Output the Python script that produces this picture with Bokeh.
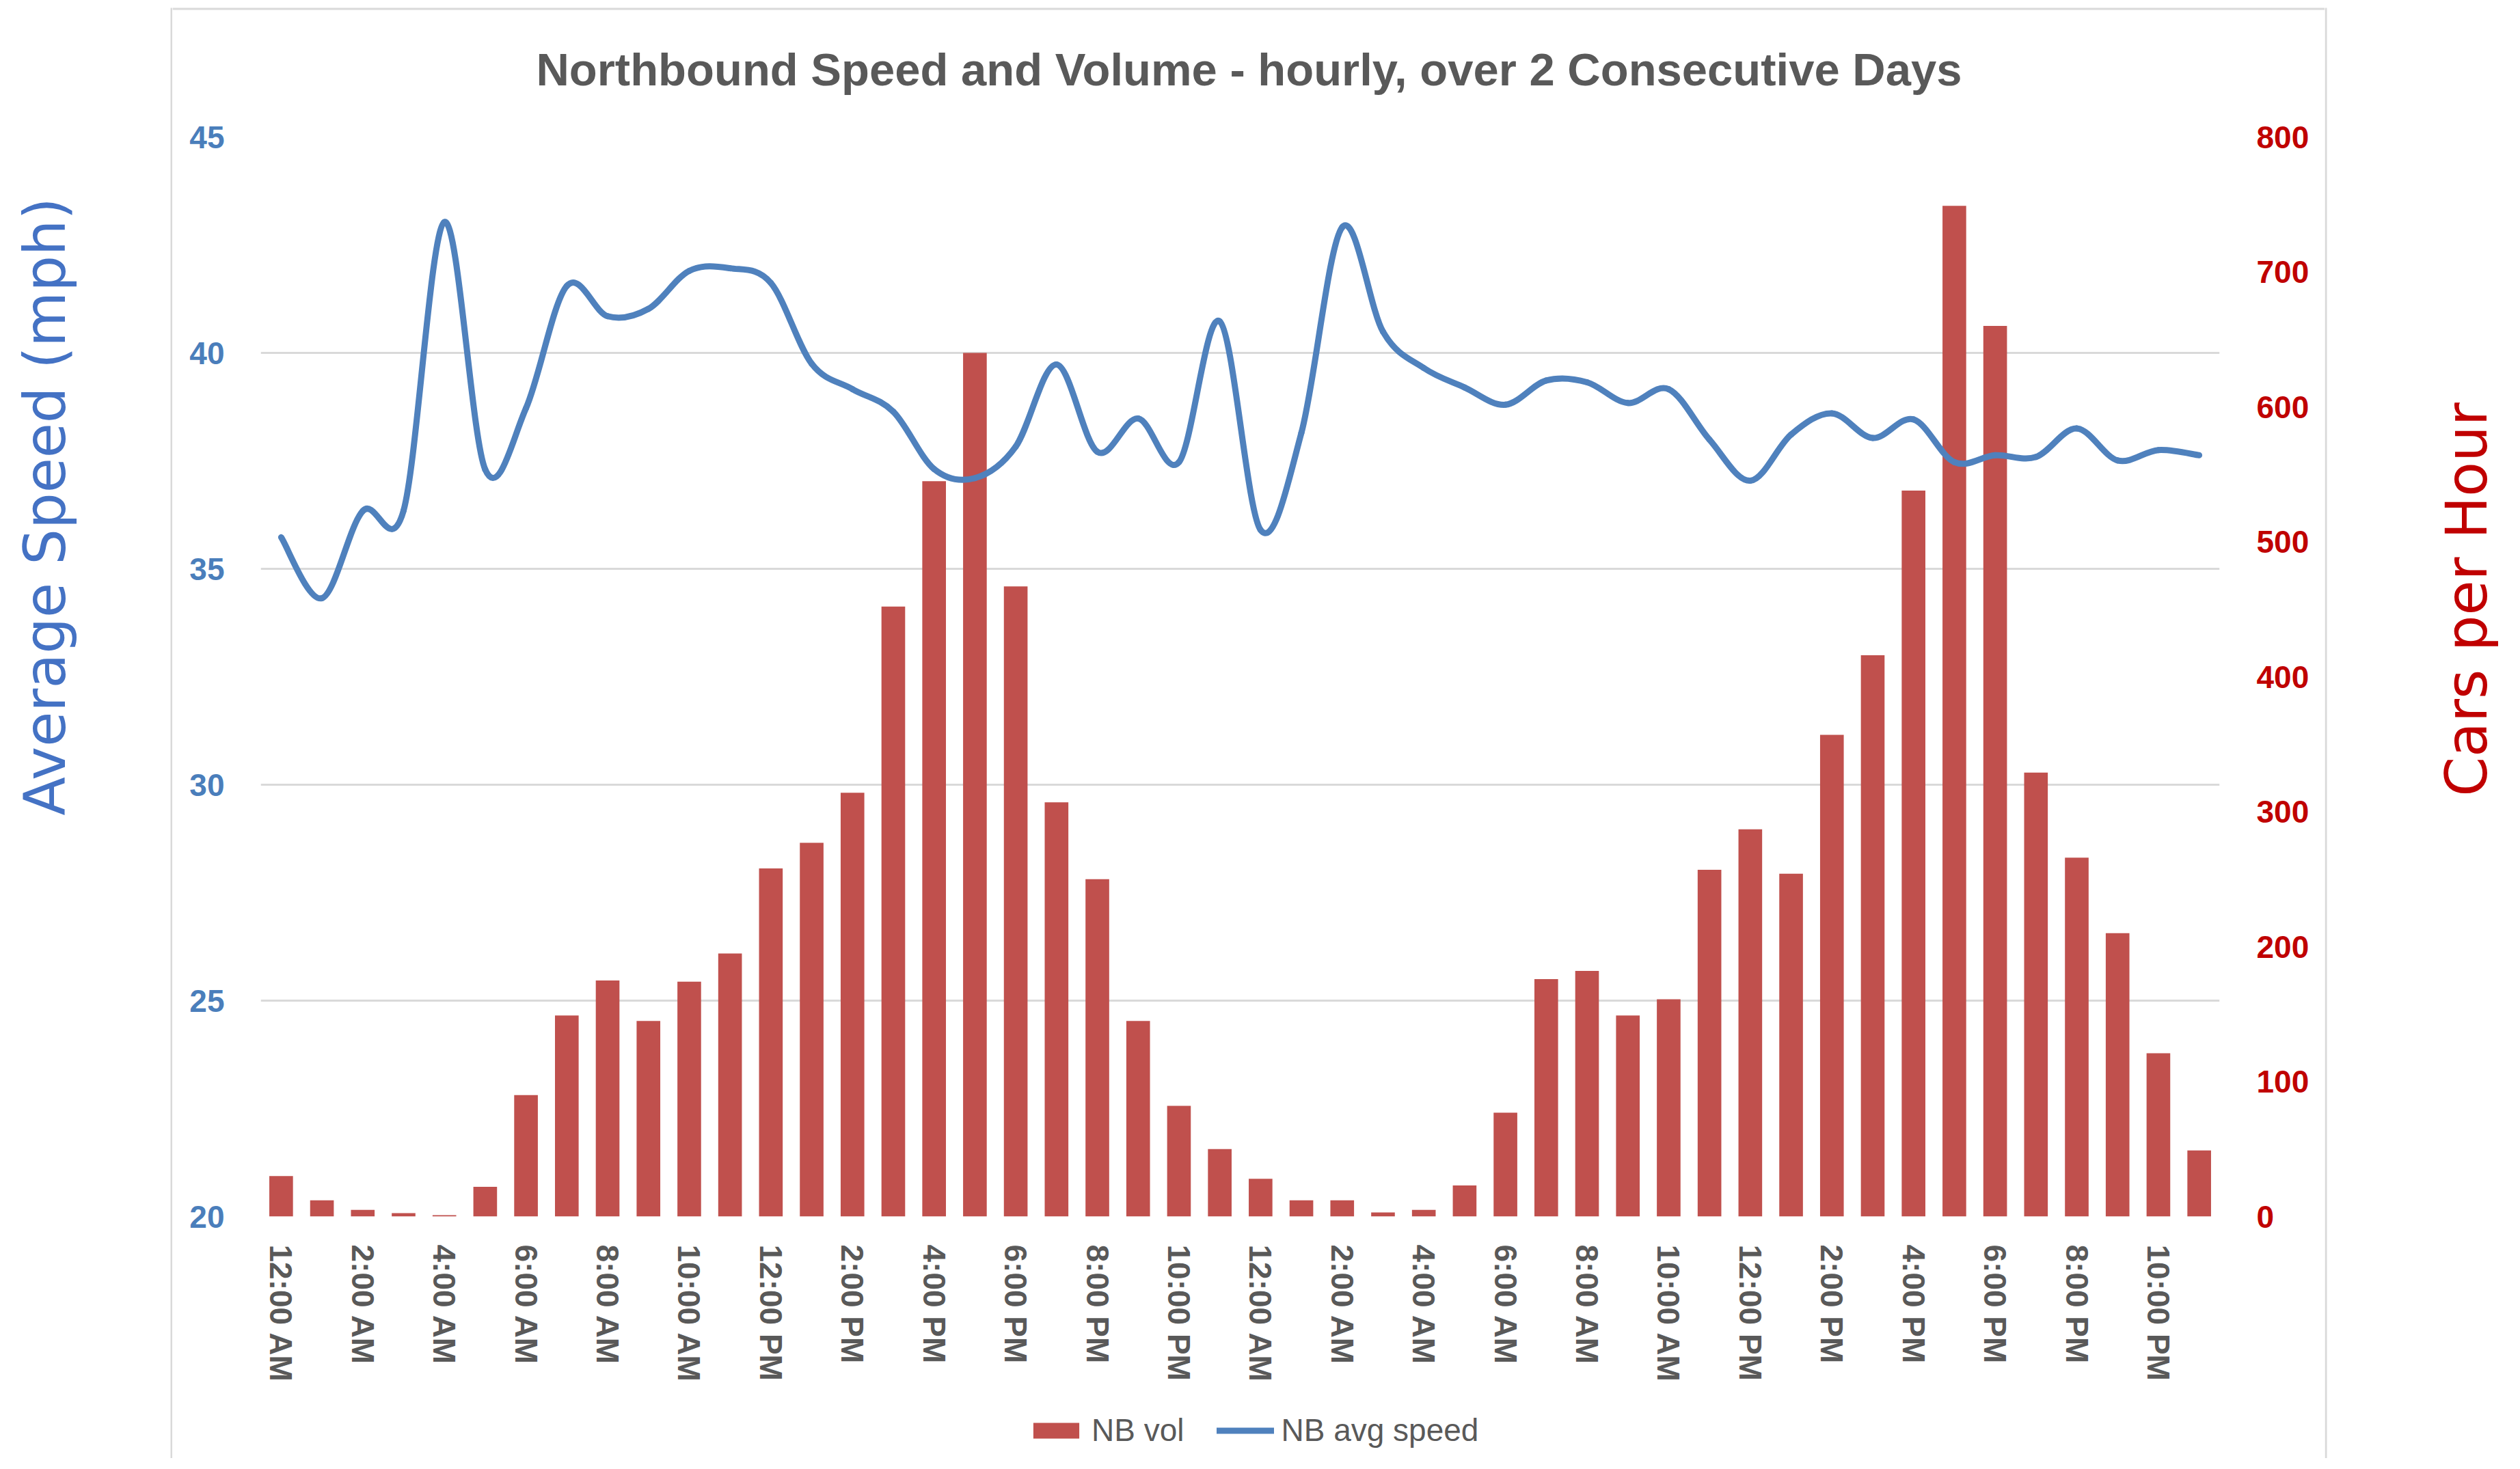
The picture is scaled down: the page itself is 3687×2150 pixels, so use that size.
import math
from bokeh.plotting import figure
from bokeh.layouts import row, column
from bokeh.models import (Range1d, LinearAxis, FixedTicker, Label,
                          Legend, LegendItem, ColumnDataSource)
from bokeh.embed import file_html
from bokeh.resources import INLINE

# ---------------- data ----------------
day_hours = ["12:00 AM", "1:00 AM", "2:00 AM", "3:00 AM", "4:00 AM", "5:00 AM",
             "6:00 AM", "7:00 AM", "8:00 AM", "9:00 AM", "10:00 AM", "11:00 AM",
             "12:00 PM", "1:00 PM", "2:00 PM", "3:00 PM", "4:00 PM", "5:00 PM",
             "6:00 PM", "7:00 PM", "8:00 PM", "9:00 PM", "10:00 PM", "11:00 PM"]
hour_labels = day_hours + day_hours

nb_vol = [30, 12, 5, 2.5, 1, 22, 90, 149, 175, 145, 174, 195,
          258, 277, 314, 452, 545, 640, 467, 307, 250, 145, 82, 50,
          28, 12, 12, 3, 5, 23, 77, 176, 182, 149, 161, 257,
          287, 254, 357, 416, 538, 749, 660, 329, 266, 210, 121, 49]

nb_speed = [35.73, 34.32, 36.34, 36.35, 43.03, 37.30, 38.72, 41.55, 40.85, 41.02, 41.90, 41.96,
            41.62, 39.75, 39.16, 38.64, 37.31, 37.10, 37.83, 39.73, 37.71, 38.48, 37.47, 40.73,
            35.90, 38.15, 42.91, 40.49, 39.65, 39.20, 38.80, 39.36, 39.32, 38.84, 39.16, 37.99,
            37.04, 38.11, 38.60, 38.03, 38.46, 37.47, 37.63, 37.59, 38.25, 37.51, 37.75, 37.63]

speed_ticks = [20, 25, 30, 35, 40, 45]
vol_ticks = [0, 100, 200, 300, 400, 500, 600, 700, 800]

title_text = "Northbound Speed and Volume - hourly, over 2 Consecutive Days"
left_title = "Average Speed (mph)"
right_title = "Cars per Hour"
series_names = ["NB vol", "NB avg speed"]

BAR_COLOR = "#C0504D"
LINE_COLOR = "#4F81BD"
TEXT_GRAY = "#595959"
BORDER = "#D9D9D9"

TOTAL_H = 2134
LEFT_W, MAIN_W, RIGHT_W = 252, 3149, 270
TOP_H, LEG_H = 150, 104
MAIN_H = TOTAL_H - TOP_H - LEG_H


def blank_fig(w, h):
    f = figure(width=w, height=h, output_backend="svg", toolbar_location=None,
               x_range=Range1d(0, w), y_range=Range1d(0, h),
               x_axis_location=None, y_axis_location=None,
               min_border=0, min_border_left=0, min_border_right=0,
               min_border_top=0, min_border_bottom=0)
    f.frame_align = False
    f.outline_line_color = None
    f.grid.grid_line_color = None
    f.background_fill_color = "white"
    f.border_fill_color = "white"
    return f


# ---------------- main figure ----------------
p = figure(width=MAIN_W, height=MAIN_H, output_backend="svg", toolbar_location=None,
           x_range=Range1d(-0.5, len(hour_labels) - 0.5),
           y_range=Range1d(20, 45),
           min_border_left=129, min_border_right=154,
           min_border_top=50, min_border_bottom=250)
p.frame_align = False
p.outline_line_color = None
p.background_fill_color = "white"
p.border_fill_color = "white"
p.extra_y_ranges = {"vol": Range1d(0, 800)}

xs = list(range(len(hour_labels)))
xa = p.xaxis[0]
xa.ticker = FixedTicker(ticks=xs[::2])
xa.major_label_overrides = {i: hour_labels[i] for i in xs[::2]}
xa.major_label_orientation = "vertical"
xa.major_label_text_font = "Liberation Sans"
xa.major_label_text_font_style = "bold"
xa.major_label_text_font_size = "46px"
xa.major_label_text_color = TEXT_GRAY
xa.major_label_standoff = 35
xa.axis_line_color = None
xa.major_tick_line_color = None
xa.minor_tick_line_color = None
p.xgrid.grid_line_color = None

ya = p.yaxis[0]
ya.ticker = FixedTicker(ticks=speed_ticks)
ya.major_label_text_font = "Liberation Sans"
ya.major_label_text_font_style = "bold"
ya.major_label_text_font_size = "46px"
ya.major_label_text_color = "#4A7EBB"
ya.major_label_standoff = 47
ya.axis_line_color = None
ya.major_tick_line_color = None
ya.minor_tick_line_color = None
p.ygrid.ticker = FixedTicker(ticks=speed_ticks)
p.ygrid.grid_line_color = BORDER
p.ygrid.grid_line_width = 3

ra = LinearAxis(y_range_name="vol", ticker=FixedTicker(ticks=vol_ticks))
ra.major_label_text_font = "Liberation Sans"
ra.major_label_text_font_style = "bold"
ra.major_label_text_font_size = "46px"
ra.major_label_text_color = "#C00000"
ra.major_label_standoff = 48
ra.axis_line_color = None
ra.major_tick_line_color = None
ra.minor_tick_line_color = None
p.add_layout(ra, "right")

p.vbar(x=xs, top=nb_vol, bottom=0, width=0.58, y_range_name="vol",
       fill_color=BAR_COLOR, line_color=None)

# smoothed speed line: bezier segments with Catmull-Rom control points
n = len(nb_speed)
x0, y0, x1, y1, cx0, cy0, cx1, cy1 = [], [], [], [], [], [], [], []
for i in range(n - 1):
    xm = xs[i - 1] if i > 0 else xs[i]
    ym = nb_speed[i - 1] if i > 0 else nb_speed[i]
    xp2 = xs[i + 2] if i + 2 < n else xs[i + 1]
    yp2 = nb_speed[i + 2] if i + 2 < n else nb_speed[i + 1]
    x0.append(xs[i]); y0.append(nb_speed[i])
    x1.append(xs[i + 1]); y1.append(nb_speed[i + 1])
    cx0.append(xs[i] + (xs[i + 1] - xm) / 6.0)
    cy0.append(nb_speed[i] + (nb_speed[i + 1] - ym) / 6.0)
    cx1.append(xs[i + 1] - (xp2 - xs[i]) / 6.0)
    cy1.append(nb_speed[i + 1] - (yp2 - nb_speed[i]) / 6.0)
src = ColumnDataSource(dict(x0=x0, y0=y0, x1=x1, y1=y1, cx0=cx0, cy0=cy0, cx1=cx1, cy1=cy1))
p.bezier(x0="x0", y0="y0", x1="x1", y1="y1", cx0="cx0", cy0="cy0", cx1="cx1", cy1="cy1",
         source=src, line_color=LINE_COLOR, line_width=9, line_cap="round")

# ---------------- title strip (with top border of the chart box) ----------------
top = blank_fig(MAIN_W, TOP_H)
top.quad(left=[0], right=[MAIN_W], bottom=[TOP_H - 14], top=[TOP_H - 11],
         fill_color=BORDER, line_color=None)
top.add_layout(Label(x=1575, y=49, text=title_text, text_align="center",
                     text_baseline="alphabetic", text_font="Liberation Sans",
                     text_font_style="bold", text_font_size="67px", text_color=TEXT_GRAY))

# ---------------- legend strip ----------------
leg = blank_fig(MAIN_W, LEG_H)
leg_bar = leg.vbar(x=xs, top=nb_vol, width=0.58, fill_color=BAR_COLOR, line_color=None,
                   visible=False)
leg_line = leg.line(x=xs, y=nb_speed, line_color=LINE_COLOR, line_width=9, line_cap="round",
                    visible=False)
legend = Legend(items=[LegendItem(label=series_names[0], renderers=[leg_bar]),
                       LegendItem(label=series_names[1], renderers=[leg_line])],
                orientation="horizontal", location=(1251, 14),
                glyph_width=84, glyph_height=29, label_standoff=10, spacing=48,
                padding=0, margin=0, border_line_color=None, background_fill_alpha=0,
                label_text_font="Liberation Sans", label_text_font_size="46px",
                label_text_color=TEXT_GRAY)
leg.add_layout(legend, "center")

# ---------------- side strips (axis titles + chart border) ----------------
left = blank_fig(LEFT_W, TOTAL_H)
left.quad(left=[LEFT_W - 3], right=[LEFT_W], bottom=[0], top=[TOTAL_H - 11],
          fill_color=BORDER, line_color=None)
left.add_layout(Label(x=66, y=1393, text=left_title, angle=math.pi / 2,
                      text_align="center", text_baseline="middle",
                      text_font="DejaVu Sans", text_font_size="83px", text_color="#4472C4"))

right = blank_fig(RIGHT_W, TOTAL_H)
right.quad(left=[0], right=[3], bottom=[0], top=[TOTAL_H - 11],
           fill_color=BORDER, line_color=None)
right.add_layout(Label(x=208, y=1257, text=right_title, angle=math.pi / 2,
                       text_align="center", text_baseline="middle",
                       text_font="DejaVu Sans", text_font_size="83px", text_color="#C00000"))

layout = row(left, column(top, p, leg, spacing=0), right, spacing=0)

open("out.html", "w").write(file_html(layout, INLINE))
